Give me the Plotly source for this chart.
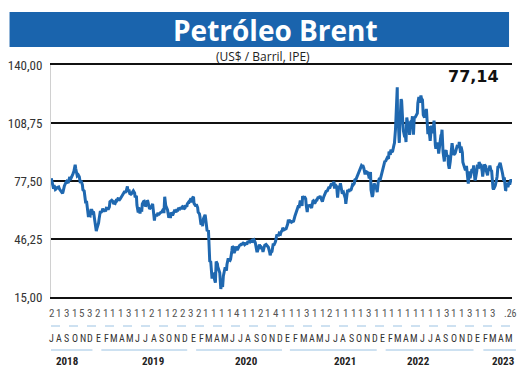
import plotly.graph_objects as go

# ---------------- data ----------------
dates_2018 = ["2018-07-02","2018-07-06","2018-07-11","2018-07-13","2018-07-18","2018-07-20","2018-07-25","2018-07-31",
              "2018-08-03","2018-08-08","2018-08-15","2018-08-17","2018-08-22","2018-08-29","2018-08-31",
              "2018-09-06","2018-09-12","2018-09-14","2018-09-19","2018-09-24","2018-09-28",
              "2018-10-03","2018-10-05","2018-10-11","2018-10-15","2018-10-19","2018-10-23","2018-10-26","2018-10-31",
              "2018-11-02","2018-11-07","2018-11-09","2018-11-13","2018-11-16","2018-11-20","2018-11-23","2018-11-28","2018-11-30",
              "2018-12-03","2018-12-07","2018-12-11","2018-12-14","2018-12-18","2018-12-21","2018-12-24","2018-12-27","2018-12-31"]
price_2018 = [79.0,77.1,73.4,75.3,72.9,73.1,74.0,74.3,
              73.2,72.3,70.8,71.8,74.8,77.1,77.4,
              76.5,79.7,78.1,79.4,81.2,82.7,
              86.3,84.2,80.3,80.8,79.8,76.4,77.6,75.5,
              72.8,72.1,70.2,65.5,66.8,62.5,58.8,58.8,58.7,
              61.7,61.7,60.2,60.3,56.3,53.8,50.5,52.2,53.8]

dates_2019 = ["2019-01-02","2019-01-04","2019-01-09","2019-01-11","2019-01-16","2019-01-18","2019-01-23","2019-01-25","2019-01-30",
              "2019-02-01","2019-02-06","2019-02-08","2019-02-13","2019-02-15","2019-02-20","2019-02-22","2019-02-27",
              "2019-03-01","2019-03-06","2019-03-08","2019-03-13","2019-03-15","2019-03-20","2019-03-22","2019-03-27","2019-03-29",
              "2019-04-03","2019-04-05","2019-04-10","2019-04-12","2019-04-17","2019-04-19","2019-04-24","2019-04-26",
              "2019-05-01","2019-05-03","2019-05-08","2019-05-10","2019-05-15","2019-05-17","2019-05-22","2019-05-24","2019-05-29","2019-05-31",
              "2019-06-05","2019-06-07","2019-06-12","2019-06-14","2019-06-19","2019-06-21","2019-06-26","2019-06-28",
              "2019-07-03","2019-07-05","2019-07-10","2019-07-12","2019-07-17","2019-07-19","2019-07-24","2019-07-26","2019-07-31",
              "2019-08-02","2019-08-07","2019-08-09","2019-08-14","2019-08-16","2019-08-21","2019-08-23","2019-08-28","2019-08-30",
              "2019-09-04","2019-09-06","2019-09-11","2019-09-13","2019-09-16","2019-09-20","2019-09-25","2019-09-27",
              "2019-10-02","2019-10-04","2019-10-09","2019-10-11","2019-10-16","2019-10-18","2019-10-23","2019-10-25","2019-10-30",
              "2019-11-01","2019-11-06","2019-11-08","2019-11-13","2019-11-15","2019-11-20","2019-11-22","2019-11-27","2019-11-29",
              "2019-12-04","2019-12-06","2019-12-11","2019-12-13","2019-12-18","2019-12-20","2019-12-27","2019-12-31"]
price_2019 = [54.9,57.1,61.4,60.5,61.3,62.7,61.1,61.6,61.7,
              62.8,62.7,62.1,63.6,66.3,67.1,67.1,66.4,
              65.1,66.0,65.7,67.6,67.2,68.5,67.0,67.8,68.4,
              69.3,70.3,71.7,71.6,71.6,71.9,74.6,72.2,
              72.2,70.8,70.4,70.6,71.8,72.2,71.0,68.7,69.5,64.5,
              60.6,63.3,60.0,62.0,61.8,65.2,66.5,66.6,
              63.8,64.2,67.0,66.7,63.7,62.5,63.2,63.5,65.2,
              61.9,56.2,58.5,59.5,58.6,60.3,59.3,60.5,60.4,
              60.7,61.5,62.4,60.2,69.0,64.3,62.4,61.9,
              57.7,58.4,58.3,60.5,59.4,59.4,61.2,62.0,60.6,
              61.7,61.7,62.5,62.4,63.3,62.4,63.4,64.1,62.4,
              63.0,64.4,63.7,65.2,66.2,66.1,68.2,66.0]

dates_2020 = ["2020-01-03","2020-01-06","2020-01-08","2020-01-10","2020-01-15","2020-01-17","2020-01-22","2020-01-24","2020-01-29","2020-01-31",
              "2020-02-04","2020-02-07","2020-02-10","2020-02-14","2020-02-20","2020-02-21","2020-02-26","2020-02-28",
              "2020-03-04","2020-03-06","2020-03-09","2020-03-13","2020-03-18","2020-03-20","2020-03-25","2020-03-27","2020-03-31",
              "2020-04-03","2020-04-08","2020-04-09","2020-04-14","2020-04-17","2020-04-21","2020-04-24","2020-04-28",
              "2020-05-01","2020-05-06","2020-05-08","2020-05-13","2020-05-15","2020-05-20","2020-05-22","2020-05-27","2020-05-29",
              "2020-06-03","2020-06-05","2020-06-10","2020-06-12","2020-06-17","2020-06-19","2020-06-24","2020-06-26",
              "2020-07-01","2020-07-03","2020-07-08","2020-07-10","2020-07-15","2020-07-17","2020-07-22","2020-07-24","2020-07-29","2020-07-31",
              "2020-08-05","2020-08-07","2020-08-12","2020-08-14","2020-08-19","2020-08-21","2020-08-26","2020-08-28",
              "2020-09-02","2020-09-04","2020-09-08","2020-09-11","2020-09-16","2020-09-18","2020-09-23","2020-09-25","2020-09-30",
              "2020-10-02","2020-10-07","2020-10-09","2020-10-14","2020-10-16","2020-10-21","2020-10-23","2020-10-28","2020-10-30",
              "2020-11-02","2020-11-06","2020-11-11","2020-11-13","2020-11-18","2020-11-20","2020-11-25","2020-11-27",
              "2020-12-02","2020-12-04","2020-12-09","2020-12-11","2020-12-16","2020-12-18","2020-12-23","2020-12-24","2020-12-31"]
price_2020 = [68.6,68.9,65.4,65.0,64.0,64.9,63.2,60.7,59.8,58.2,
              54.0,54.5,53.3,57.3,59.3,58.5,53.4,50.5,
              51.1,45.3,34.4,33.9,24.9,27.0,27.4,24.9,22.7,
              34.1,32.8,31.5,29.6,28.1,19.3,21.4,20.5,
              26.4,29.7,31.0,29.2,32.5,35.8,35.1,34.7,35.3,
              39.8,42.3,41.7,38.7,40.7,42.2,40.3,41.0,
              42.0,42.8,43.3,43.2,43.8,43.1,44.3,43.3,43.8,43.3,
              45.2,44.4,45.4,44.8,45.4,44.4,45.6,45.8,
              44.4,42.7,39.8,39.8,42.2,43.2,41.7,41.9,40.9,
              39.3,42.0,42.9,43.3,42.9,41.7,41.8,39.1,37.5,
              39.0,39.5,43.8,42.8,44.3,45.0,48.6,48.2,
              48.3,49.3,48.9,50.0,50.9,52.3,51.2,51.3,51.8]

dates_2021 = ["2021-01-06","2021-01-08","2021-01-13","2021-01-15","2021-01-20","2021-01-22","2021-01-27","2021-01-29",
              "2021-02-03","2021-02-05","2021-02-10","2021-02-12","2021-02-17","2021-02-19","2021-02-24","2021-02-26",
              "2021-03-03","2021-03-05","2021-03-08","2021-03-10","2021-03-12","2021-03-17","2021-03-19","2021-03-23","2021-03-26","2021-03-31",
              "2021-04-01","2021-04-07","2021-04-09","2021-04-14","2021-04-16","2021-04-21","2021-04-23","2021-04-28","2021-04-30",
              "2021-05-05","2021-05-07","2021-05-12","2021-05-14","2021-05-19","2021-05-21","2021-05-26","2021-05-28",
              "2021-06-02","2021-06-04","2021-06-09","2021-06-11","2021-06-16","2021-06-18","2021-06-23","2021-06-25","2021-06-30",
              "2021-07-02","2021-07-05","2021-07-07","2021-07-09","2021-07-14","2021-07-16","2021-07-19","2021-07-23","2021-07-28","2021-07-30",
              "2021-08-04","2021-08-06","2021-08-11","2021-08-13","2021-08-18","2021-08-20","2021-08-25","2021-08-27",
              "2021-09-01","2021-09-03","2021-09-08","2021-09-10","2021-09-15","2021-09-17","2021-09-22","2021-09-24","2021-09-29",
              "2021-10-01","2021-10-06","2021-10-08","2021-10-13","2021-10-15","2021-10-20","2021-10-22","2021-10-25","2021-10-29",
              "2021-11-03","2021-11-05","2021-11-10","2021-11-12","2021-11-17","2021-11-19","2021-11-24","2021-11-26",
              "2021-12-01","2021-12-03","2021-12-08","2021-12-10","2021-12-15","2021-12-17","2021-12-20","2021-12-24","2021-12-29","2021-12-31"]
price_2021 = [54.3,56.0,56.1,55.1,56.1,55.4,55.8,55.9,
              58.5,59.3,61.5,62.4,64.3,62.9,67.0,66.1,
              64.1,69.4,68.2,67.9,69.2,68.0,64.5,60.8,64.6,63.5,
              64.9,63.2,63.0,66.6,66.8,65.3,66.1,67.3,67.3,
              69.0,68.3,69.3,68.7,66.7,66.4,68.9,69.6,
              71.4,71.9,72.2,72.7,74.4,73.5,75.2,76.2,75.1,
              76.2,77.2,73.4,75.6,74.8,73.6,68.6,74.1,74.7,76.3,
              72.4,70.7,71.4,70.6,68.2,65.2,72.3,72.7,
              71.6,72.6,72.6,72.9,75.5,75.3,76.2,78.1,78.6,
              79.3,81.1,82.4,83.2,84.9,85.8,85.5,86.0,84.4,
              81.0,82.7,82.6,82.2,80.3,78.9,82.3,72.7,
              68.9,69.9,76.2,75.2,73.9,73.5,71.5,76.9,79.2,77.8]

dates_2022 = ["2022-01-05","2022-01-07","2022-01-12","2022-01-14","2022-01-19","2022-01-21","2022-01-26","2022-01-28",
              "2022-02-02","2022-02-04","2022-02-09","2022-02-11","2022-02-15","2022-02-18","2022-02-23","2022-02-25",
              "2022-03-01","2022-03-03","2022-03-04","2022-03-08","2022-03-09","2022-03-11","2022-03-15","2022-03-16","2022-03-18","2022-03-23","2022-03-25","2022-03-29",
              "2022-04-01","2022-04-06","2022-04-08","2022-04-11","2022-04-14","2022-04-19","2022-04-22","2022-04-25","2022-04-29",
              "2022-05-04","2022-05-06","2022-05-10","2022-05-13","2022-05-17","2022-05-20","2022-05-25","2022-05-27","2022-05-31",
              "2022-06-03","2022-06-08","2022-06-10","2022-06-14","2022-06-17","2022-06-22","2022-06-24","2022-06-29","2022-06-30",
              "2022-07-05","2022-07-08","2022-07-12","2022-07-14","2022-07-19","2022-07-22","2022-07-27","2022-07-29",
              "2022-08-03","2022-08-05","2022-08-10","2022-08-12","2022-08-16","2022-08-19","2022-08-24","2022-08-26","2022-08-29",
              "2022-09-02","2022-09-07","2022-09-09","2022-09-14","2022-09-16","2022-09-21","2022-09-23","2022-09-26","2022-09-30",
              "2022-10-05","2022-10-07","2022-10-12","2022-10-14","2022-10-19","2022-10-21","2022-10-26","2022-10-28",
              "2022-11-02","2022-11-04","2022-11-09","2022-11-11","2022-11-16","2022-11-18","2022-11-23","2022-11-25","2022-11-28",
              "2022-12-02","2022-12-07","2022-12-09","2022-12-14","2022-12-16","2022-12-21","2022-12-23","2022-12-28","2022-12-30"]
price_2022 = [80.8,81.8,84.7,86.1,88.4,87.9,90.0,90.0,
              89.5,93.3,91.6,94.4,93.3,93.5,96.8,97.9,
              105.0,110.5,118.1,128.0,111.1,112.7,99.9,98.0,107.9,121.6,120.7,110.2,
              104.4,101.1,102.8,98.5,111.7,107.3,106.7,102.3,109.3,
              110.1,112.4,102.5,111.6,111.9,112.6,114.0,119.4,122.8,
              119.7,123.6,122.0,121.2,113.1,111.7,113.1,116.3,114.8,
              102.8,107.0,99.5,99.1,107.4,103.2,106.6,110.0,
              96.8,94.9,97.4,98.2,92.3,96.7,101.2,101.0,105.1,
              93.0,88.0,92.8,94.1,91.4,90.8,86.2,84.1,88.0,
              93.4,97.9,92.5,91.6,92.4,93.5,96.0,95.8,
              96.2,98.6,92.7,96.0,92.9,87.6,85.4,83.6,83.2,
              85.6,77.2,76.1,82.7,79.0,82.2,83.9,83.3,85.9]

dates_2023 = ["2023-01-04","2023-01-06","2023-01-11","2023-01-13","2023-01-18","2023-01-20","2023-01-25","2023-01-27",
              "2023-02-01","2023-02-03","2023-02-08","2023-02-10","2023-02-15","2023-02-17","2023-02-22","2023-02-24",
              "2023-03-01","2023-03-03","2023-03-07","2023-03-10","2023-03-15","2023-03-17","2023-03-20","2023-03-24","2023-03-29","2023-03-31",
              "2023-04-03","2023-04-06","2023-04-12","2023-04-14","2023-04-19","2023-04-21","2023-04-26","2023-04-28",
              "2023-05-03","2023-05-04","2023-05-05","2023-05-10","2023-05-12","2023-05-17","2023-05-19","2023-05-24","2023-05-26"]
price_2023 = [77.8,78.6,82.7,85.3,85.0,87.6,86.1,86.7,
              82.8,79.9,85.1,86.4,85.4,83.0,80.6,83.2,
              84.3,85.8,83.3,82.8,73.7,73.0,73.8,75.0,78.3,79.8,
              84.9,85.1,87.3,86.3,83.1,81.7,77.7,79.5,
              72.3,72.5,75.3,76.4,74.2,77.0,75.6,78.4,77.14]

last_value_label = "77,14"
title_text = "Petróleo Brent"
subtitle_text = "(US$ / Barril, IPE)"

y_ticks = [15.00, 46.25, 77.50, 108.75, 140.00]

month_letters = ["J","A","S","O","N","D",
                 "E","F","M","A","M","J","J","A","S","O","N","D",
                 "E","F","M","A","M","J","J","A","S","O","N","D",
                 "E","F","M","A","M","J","J","A","S","O","N","D",
                 "E","F","M","A","M","J","J","A","S","O","N","D",
                 "E","F","M","A","M"]
month_counts = ["2","1","3","1","5","3","2","1","1","1","3","1","1","2","1","1","2","2","3","2",
                "1","1","1","1","4","1","1","2","1","4","1","1","1","3","1","1","2","1","1","1",
                "1","3","1","1","1","1","1","1","1","1","1","3","1","1","3","1","1","3",".26"]
years = ["2018","2019","2020","2021","2022","2023"]

# ---------------- figure ----------------
dates = dates_2018 + dates_2019 + dates_2020 + dates_2021 + dates_2022 + dates_2023
prices = price_2018 + price_2019 + price_2020 + price_2021 + price_2022 + price_2023

W, H = 520, 376
L, R, T, B = 45, 8, 65, 79
pw = W - L - R
ph = H - T - B

def px(xp):
    return (xp - L) / pw

def py(yp):
    return (H - B - yp) / ph

BLUE = "#1a64ad"
LINE = "#1f68b0"
LIGHT = "#9cc3e3"
NARROW = "Liberation Sans Narrow, Arial Narrow, Roboto Condensed, DejaVu Sans Condensed, sans-serif"

fig = go.Figure()
fig.add_trace(go.Scatter(x=dates, y=prices, mode="lines",
                         line=dict(color=LINE, width=3), hoverinfo="skip"))

shapes = []
annotations = []

# title band
shapes.append(dict(type="rect", xref="paper", yref="paper",
                   x0=px(3), x1=px(509), y0=py(47), y1=py(12),
                   fillcolor=BLUE, line=dict(width=0), layer="below"))
annotations.append(dict(text=f"<b>{title_text}</b>", xref="paper", yref="paper",
                        x=px(272), y=py(30), showarrow=False, xanchor="center", yanchor="middle",
                        font=dict(family="Open Sans, sans-serif", size=28, color="white")))
annotations.append(dict(text=subtitle_text, xref="paper", yref="paper",
                        x=px(260), y=py(57), showarrow=False, xanchor="center", yanchor="middle",
                        font=dict(family="Open Sans, sans-serif", size=12, color="#222")))
annotations.append(dict(text=f"<b>{last_value_label}</b>", xref="paper", yref="paper",
                        x=px(473), y=py(76), showarrow=False, xanchor="center", yanchor="middle",
                        font=dict(family="DejaVu Sans, sans-serif", size=16, color="#111")))

# bottom calendar strip
step = 8.0
dstep = 7.85
n = len(month_letters)
for i, (c, m) in enumerate(zip(month_counts, month_letters)):
    xc = 45 + i * step
    last = (i == n - 1)
    annotations.append(dict(text=c, xref="paper", yref="paper",
                            x=px(518 if last else 45 + i * dstep), y=py(313),
                            showarrow=False, xanchor="right" if last else "center", yanchor="middle",
                            borderpad=0,
                            font=dict(family=NARROW, size=10 if last else 11, color="#555")))
    annotations.append(dict(text=m, xref="paper", yref="paper", x=px(xc), y=py(338),
                            showarrow=False, xanchor="center", yanchor="middle",
                            font=dict(family=NARROW, size=10, color="#333")))

shapes.append(dict(type="line", xref="paper", yref="paper", x0=px(45), x1=px(512),
                   y0=py(326), y1=py(326), line=dict(color=LIGHT, width=1, dash="dash")))

year_seg = [(45, 87), (96, 183), (192, 279), (287, 375), (384, 473), (483, 516)]
year_lab = [62, 148, 243, 343, 417, 503]
for yr, (a, b), xl in zip(years, year_seg, year_lab):
    shapes.append(dict(type="line", xref="paper", yref="paper", x0=px(a), x1=px(b),
                       y0=py(350), y1=py(350), line=dict(color=LIGHT, width=1)))
    annotations.append(dict(text=f"<b>{yr}</b>", xref="paper", yref="paper", x=px(xl), y=py(361),
                            showarrow=False, xanchor="center", yanchor="middle",
                            font=dict(family=NARROW, size=11, color="#222")))

fig.update_layout(
    width=W, height=H,
    margin=dict(l=L, r=R, t=T, b=B, pad=0),
    paper_bgcolor="white", plot_bgcolor="white",
    separators=",.",
    showlegend=False,
    shapes=shapes, annotations=annotations,
    xaxis=dict(type="date", range=["2018-07-01", "2023-05-28"],
               showgrid=False, showticklabels=False, ticks="",
               showline=True, linecolor="#111", linewidth=1.5, mirror=True,
               zeroline=False, fixedrange=True),
    yaxis=dict(range=[15, 140], tickvals=y_ticks, tickformat=".2f",
               showgrid=True, gridcolor="#111", gridwidth=1.5,
               showline=True, linecolor="#d0d0d0", linewidth=1,
               zeroline=False, ticks="", ticklabelstandoff=5,
               tickfont=dict(family=NARROW, size=13, color="#333"), fixedrange=True),
)

fig.write_html("out.html", config={"displayModeBar": False},
               post_script="document.body.style.margin='0';document.body.style.overflow='hidden';")
